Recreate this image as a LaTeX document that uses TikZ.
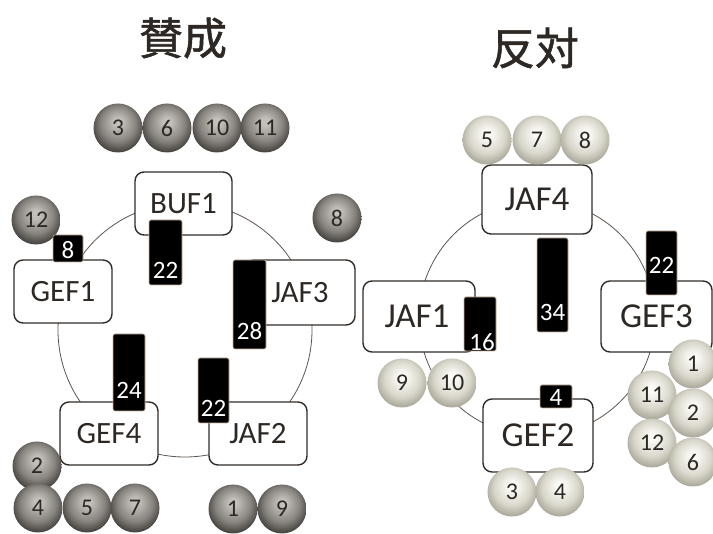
\documentclass[tikz,border=0pt]{standalone}
\usepackage{fontspec}
\setmainfont{Carlito}
\newfontfamily\cjk[FakeBold=1.2]{Noto Sans CJK JP}
\definecolor{txt}{RGB}{45,40,36}
\definecolor{boxline}{RGB}{50,44,40}
\definecolor{ringline}{RGB}{95,85,80}
\definecolor{barline}{RGB}{205,180,160}
\definecolor{dkA}{RGB}{195,191,185}
\definecolor{dkB}{RGB}{135,131,126}
\definecolor{dkC}{RGB}{66,64,60}
\definecolor{ltA}{RGB}{250,250,246}
\definecolor{ltB}{RGB}{218,216,204}
\definecolor{ltC}{RGB}{168,166,152}
\pgfdeclareradialshading{darkball}{\pgfpoint{0bp}{7bp}}{color(0bp)=(dkA); color(4bp)=(dkA); color(18bp)=(dkB); color(28bp)=(dkC); color(50bp)=(dkC)}
\pgfdeclareradialshading{lightball}{\pgfpoint{0bp}{7bp}}{color(0bp)=(ltA); color(4bp)=(ltA); color(18bp)=(ltB); color(28bp)=(ltC); color(50bp)=(ltC)}
\tikzset{
  box/.style={draw=boxline, line width=1.4pt, rounded corners=9pt, fill=white,
    inner sep=0pt, text=txt},
  lbox/.style={box, minimum height=63pt, font=\fontsize{31}{31}\selectfont},
  rbox/.style={box, minimum height=71pt, font=\fontsize{35}{35}\selectfont},
  bar/.style={draw=barline, line width=0.6pt, fill=black, rounded corners=2pt, inner sep=0pt},
  barnum/.style={text=white, font=\fontsize{25}{25}\selectfont, inner sep=0pt},
  ball/.style={circle, minimum size=49pt, inner sep=0pt, text=txt,
    font=\fontsize{24}{24}\selectfont},
  dball/.style={ball, shading=darkball},
  lball/.style={ball, shading=lightball},
  ring/.style={draw=ringline, line width=0.8pt},
  title/.style={text=txt, font=\cjk\fontsize{44}{44}\selectfont}
}
\begin{document}
\begin{tikzpicture}[x=1pt, y=-1pt]
\useasboundingbox (0,0) rectangle (713,534);
\fill[white] (0,0) rectangle (713,534);

% titles
\node[title] (tpro) at (183,38) {賛成};
\node[title] (tcon) at (535,48) {反対};

% ---------- left group ----------
\draw[ring] (185,330) circle[radius=127pt];

\node[lbox, minimum width=97pt] (buf1) at (183.5,203.5) {BUF1};
\node[lbox, minimum width=98pt] (gef1) at (63,291.5) {GEF1};
\node[lbox, minimum width=110pt, minimum height=65pt] (jaf3) at (300,292.5) {JAF3};
\node[lbox, minimum width=98pt] (gef4) at (109,433.5) {GEF4};
\node[lbox, minimum width=98pt] (jaf2) at (258,433.5) {JAF2};

\node[dball] (l3)  at (118,128) {3};
\node[dball] (l6)  at (167,128) {6};
\node[dball] (l10) at (217,128) {10};
\node[dball] (l11) at (265,128) {11};
\node[dball] (l12) at (36,220) {12};
\node[dball] (l8)  at (337,218) {8};
\node[dball] (l2)  at (37,466) {2};
\node[dball] (l4)  at (38,508) {4};
\node[dball] (l5)  at (87,508) {5};
\node[dball] (l7)  at (135,508) {7};
\node[dball] (l1)  at (233,509) {1};
\node[dball] (l9)  at (282,509) {9};

\node[bar, minimum width=30pt, minimum height=27pt] (bl8) at (68,248.5) {};
\node[barnum] (nl8) at (68,250) {8};
\node[bar, minimum width=33pt, minimum height=65pt] (bl22a) at (165.5,252.5) {};
\node[barnum] (nl22a) at (165.5,270) {22};
\node[bar, minimum width=33pt, minimum height=89pt] (bl28) at (249.5,304.5) {};
\node[barnum] (nl28) at (249.5,331) {28};
\node[bar, minimum width=32pt, minimum height=77pt] (bl24) at (129,372.5) {};
\node[barnum] (nl24) at (129,390) {24};
\node[bar, minimum width=31pt, minimum height=65pt] (bl22b) at (213.5,390.5) {};
\node[barnum] (nl22b) at (213.5,408) {22};

% ---------- right group ----------
\draw[ring] (537,318) circle[radius=118pt];

\node[rbox, minimum width=110pt, minimum height=69pt] (jaf4) at (537,199.5) {JAF4};
\node[rbox, minimum width=112pt] (jaf1) at (419,316.5) {\hspace*{-4pt}JAF1};
\node[rbox, minimum width=111pt] (gef3) at (656.5,316.5) {GEF3};
\node[rbox, minimum width=110pt, minimum height=73pt] (gef2) at (538,435.5) {GEF2};

\node[lball] (r5)  at (487,140) {5};
\node[lball] (r7)  at (537,140) {7};
\node[lball] (r8)  at (585,140) {8};
\node[lball] (r9)  at (402,383) {9};
\node[lball] (r10) at (452,383) {10};
\node[lball] (r3)  at (512,492) {3};
\node[lball] (r4)  at (560,492) {4};
\node[lball] (r11) at (652,395) {11};
\node[lball] (r12) at (652,443) {12};
\node[lball] (r1)  at (693,364) {1};
\node[lball] (r2)  at (693,413) {2};
\node[lball] (r6)  at (693,462) {6};

\node[bar, minimum width=31pt, minimum height=94pt] (br34) at (552.5,285) {};
\node[barnum] (nr34) at (552.5,312) {34};
\node[bar, minimum width=31pt, minimum height=64pt] (br22) at (661.5,263) {};
\node[barnum] (nr22) at (661.5,265) {22};
\node[bar, minimum width=32pt, minimum height=54pt] (br16) at (480,324) {};
\node[barnum] (nr16) at (482,342) {16};
\node[bar, minimum width=32pt, minimum height=23pt] (br4) at (556,396.5) {};
\node[barnum] (nr4) at (556,397) {4};
\end{tikzpicture}
\end{document}
